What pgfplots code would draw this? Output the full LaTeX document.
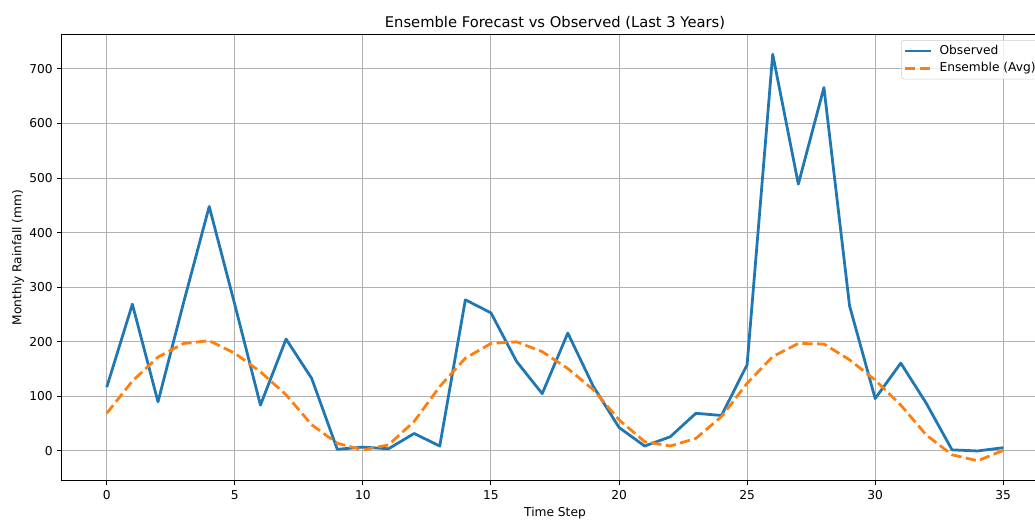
\documentclass[border=0pt]{standalone}
\usepackage{fontspec}
\setmainfont{DejaVu Sans}
\usepackage{pgfplots}
\pgfplotsset{compat=1.18}

\definecolor{tabblue}{HTML}{1F77B4}
\definecolor{taborange}{HTML}{FF7F0E}
\definecolor{gridgray}{HTML}{B0B0B0}
\definecolor{legendedge}{HTML}{CCCCCC}

\begin{document}
\begin{tikzpicture}
\begin{axis}[
  scale only axis,
  width=710pt, height=321.8pt,
  xmin=-1.75, xmax=36.75, ymin=-55, ymax=764,
  xtick={0,5,...,35}, ytick={0,100,...,700},
  tick pos=left, tick align=outside,
  major tick length=3.2pt,
  every tick/.style={black, line width=0.75pt},
  axis line style={line width=0.75pt},
  grid=major,
  major grid style={gridgray, line width=0.75pt},
  /pgf/number format/assume math mode=true,
  tick label style={font=\fontsize{8.8}{10.5}\selectfont},
  title={Ensemble Forecast vs Observed (Last 3 Years)},
  every axis title/.style={at={(axis description cs:0.5,1)}, anchor=base, yshift=5pt,
    font=\fontsize{10.6}{12.5}\selectfont},
  xlabel={Time Step},
  every axis x label/.style={at={(axis description cs:0.5,-0.0786)}, anchor=base,
    font=\fontsize{8.8}{10.5}\selectfont},
  ylabel={Monthly Rainfall (mm)},
  every axis y label/.style={at={(axis description cs:-0.0446,0.5)}, rotate=90, anchor=center,
    font=\fontsize{8.8}{10.5}\selectfont},
  legend cell align=left,
  legend image code/.code={\draw[#1] (0pt,0pt) -- (19pt,0pt);},
  legend style={at={(axis description cs:0.851,0.9866)}, anchor=north west,
    draw=legendedge, fill=white, fill opacity=0.8, text opacity=1,
    rounded corners=2pt, font=\fontsize{8.8}{10.5}\selectfont,
    inner xsep=1.5pt, inner ysep=2pt, row sep=1.2pt,
    nodes={inner xsep=0pt, inner ysep=1.5pt, text height=6.4pt, text depth=2pt},
    /tikz/every odd column/.append style={column sep=5pt}},
]
\addplot[tabblue, line width=2pt, line join=round] table {
x y
0 117
1 269
2 90
3 272
4 448
5 268
6 84
7 205
8 133
9 3
10 7
11 4
12 32
13 9
14 277
15 253
16 164
17 105
18 216
19 118
20 43
21 9
22 26
23 69
24 65
25 158
26 727
27 489
28 666
29 266
30 96
31 161
32 87
33 2
34 0
35 6
};
\addlegendentry{Observed}
\addplot[taborange, line width=2pt, dash pattern=on 7.4pt off 3.2pt, line join=round] table {
x y
0 69
1 128
2 172
3 197
4 202
5 179
6 145
7 103
8 48
9 14
10 2
11 11
12 54
13 118
14 170
15 197
16 200
17 182
18 151
19 112
20 57
21 17
22 9
23 23
24 63
25 124
26 173
27 197
28 196
29 167
30 130
31 84
32 29
33 -7
34 -18
35 1
};
\addlegendentry{Ensemble (Avg)}
\coordinate (frameorigin) at (rel axis cs:0,0);
\end{axis}
\pgfresetboundingbox
\useasboundingbox ([shift={(-44.6pt,-27.4pt)}]frameorigin) rectangle ([shift={(700.6pt,346.3pt)}]frameorigin);
\end{tikzpicture}
\end{document}
